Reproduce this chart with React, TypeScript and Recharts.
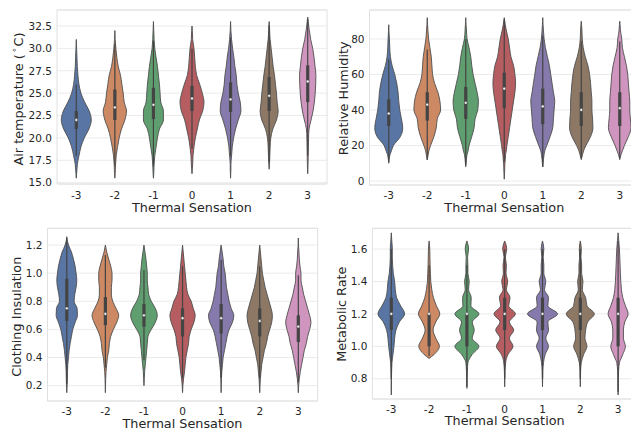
import React from 'react';
import {
  ComposedChart,
  Area,
  Line,
  XAxis,
  YAxis,
  CartesianGrid,
  ReferenceLine,
  ReferenceDot,
  ReferenceArea,
} from 'recharts';

// ---------- shared ----------
const categories = ['-3', '-2', '-1', '0', '1', '2', '3'];
const violinColors = ['#5875a4', '#cc8963', '#5f9e6e', '#b55d60', '#857aab', '#8d7866', '#d095bf'];

// ---------- Air temperature ----------
const tempLevels = [15.5, 16, 16.5, 17, 18, 19, 20, 21, 22, 23, 24, 25, 26, 27, 28, 29, 30, 31, 31.5, 32, 32.5, 33, 33.5];
const tempDensity: (number | null)[][] = [
  [0, 1, 2, 3, 8, 14, 24, 38, 45, 39, 25, 14, 8, 5, 3, 2, 1, 0, null, null, null, null, null],
  [0, 1, 1.5, 2, 4, 8, 13, 20, 30, 35, 28, 25, 21, 17, 10, 6, 3, 1, 0.5, 0, null, null, null],
  [0, 1, 1.5, 2, 4, 8, 12, 18, 30, 30, 22, 20, 18, 15, 12, 8, 4, 2, 1.5, 1, 0.5, 0, null],
  [null, 0, 1, 2, 3, 6, 10, 16, 22, 32, 36, 31, 23, 14, 10, 8, 6, 2, 1.5, 1, 0, null, null],
  [0, 0.5, 1, 1, 3, 5, 9, 15, 23, 31, 29, 23, 19, 17, 13, 10, 6, 3, 2, 1, 0.5, 0, null],
  [null, null, 0, 1, 2, 3, 5, 11, 22, 27, 24, 22, 19, 16, 12, 9, 6, 3, 2, 1.5, 1, 0, null],
  [null, 0, 0.5, 1, 1.5, 2, 2.5, 4, 10, 16, 20, 22.5, 24, 24.5, 22, 19, 15, 9, 7, 5, 3, 1.5, 0],
];
const tempQ1 = [21, 22, 22.1, 23, 22.9, 23, 24];
const tempMedian = [22, 23.4, 23.7, 24.4, 24.3, 24.7, 26.3];
const tempQ3 = [23, 25.4, 25.6, 25.8, 26.2, 26.8, 28.1];
const tempWhiskerLo = [18, 16.9, 16.85, 18.8, 17.95, 17.3, 18];
const tempWhiskerHi = [26, 30.5, 30.85, 30, 31.15, 32.5, 33.3];
const tempTicks = [15, 17.5, 20, 22.5, 25, 27.5, 30, 32.5];

// ---------- Relative humidity ----------
const rhLevels = [1, 5, 8, 10, 12, 15, 17, 20, 25, 30, 35, 40, 45, 50, 55, 60, 65, 70, 75, 80, 85, 88, 90, 92];
const rhDensity: (number | null)[][] = [
  [null, null, null, 0, 1, 4, 8, 14, 35, 42, 38, 33, 30, 28, 24, 18, 10, 5, 3, 2, 0.5, 0, null, null],
  [null, null, null, null, 0, 3, 5, 10, 20, 27, 30, 40, 38, 32, 22, 16, 14, 12, 8, 4, 2, 1, 0.5, 0],
  [null, null, 0, 1, 2, 4, 7, 10, 18, 25, 28, 36, 38, 34, 28, 22, 18, 15, 10, 4, 2, 1, 0.5, 0],
  [0, 1, 1.5, 2, 3, 4, 6, 8, 12, 16, 20, 24, 28, 32, 34, 32, 28, 20, 16, 12, 6, 3, 1.5, 0],
  [null, null, 0, 1, 2, 4, 6, 12, 22, 30, 32, 34, 36, 32, 28, 24, 20, 14, 8, 4, 2, 1, 0.5, 0],
  [null, null, null, null, 0, 4, 7, 14, 28, 35, 34, 32, 32, 30, 28, 25, 20, 12, 6, 3, 2, 1, 0, null],
  [null, null, null, null, 0, 4, 8, 14, 26, 34, 32, 30, 30, 28, 26, 24, 20, 14, 8, 6, 2, 1, 0, null],
];
const rhQ1 = [31, 34, 35, 41, 32, 31, 31];
const rhMedian = [38, 43, 44, 52, 42, 40, 41];
const rhQ3 = [46, 50, 53, 61, 52, 50, 50];
const rhWhiskerLo = [11, 12, 9, 11, 8, 13, 13];
const rhWhiskerHi = [68.5, 74, 80, 91, 82, 78.5, 78.5];
const rhTicks = [0, 20, 40, 60, 80];

// ---------- Clothing insulation ----------
const cloLevels = [0.1, 0.15, 0.2, 0.25, 0.3, 0.35, 0.4, 0.45, 0.5, 0.55, 0.6, 0.65, 0.7, 0.75, 0.8, 0.85, 0.9, 0.95, 1.0, 1.05, 1.1, 1.15, 1.2, 1.25, 1.3];
const cloDensity: (number | null)[][] = [
  [null, 0, 1, 1.5, 2, 3, 5, 7, 10, 14, 18, 25, 32, 31, 22, 24, 28, 30, 28, 25, 20, 14, 5, 0, null],
  [null, 0, 0.5, 1, 2, 4, 6, 10, 12, 16, 24, 34, 40, 32, 22, 18, 18, 20, 20, 16, 10, 4, 0, null, null],
  [null, null, 0, 1, 2, 4, 6, 8, 10, 12, 22, 34, 40, 34, 22, 14, 12, 10, 10, 8, 6, 3, 0, null, null],
  [null, 0, 1, 3, 6, 8, 10, 14, 18, 20, 26, 34, 38, 32, 26, 16, 12, 10, 8, 6, 4, 2, 0, null, null],
  [null, 0, 0.5, 1, 2, 4, 6, 10, 14, 18, 24, 34, 38, 30, 24, 20, 16, 14, 12, 8, 6, 3, 0, null, null],
  [null, 0, 1, 2, 4, 6, 10, 14, 20, 24, 30, 36, 38, 34, 28, 22, 16, 12, 8, 6, 4, 2, 0, null, null],
  [null, 0, 1, 3, 6, 10, 14, 18, 24, 28, 34, 38, 34, 28, 22, 16, 12, 8, 8, 5, 3, 2, 0.5, 0, null],
];
const cloQ1 = [0.66, 0.63, 0.62, 0.55, 0.57, 0.55, 0.51];
const cloMedian = [0.75, 0.71, 0.7, 0.68, 0.68, 0.66, 0.62];
const cloQ3 = [0.96, 0.83, 0.78, 0.75, 0.78, 0.75, 0.7];
const cloWhiskerLo = [0.21, 0.33, 0.38, 0.25, 0.255, 0.25, 0.225];
const cloWhiskerHi = [1.26, 1.13, 1.02, 1.05, 1.095, 1.05, 0.985];
const cloTicks = [0.2, 0.4, 0.6, 0.8, 1.0, 1.2];

// ---------- Metabolic rate ----------
const metLevels = [0.7, 0.75, 0.8, 0.85, 0.9, 0.925, 0.95, 1.0, 1.05, 1.1, 1.15, 1.2, 1.25, 1.3, 1.35, 1.4, 1.45, 1.5, 1.55, 1.6, 1.65, 1.7];
const metDensity: (number | null)[][] = [
  [0, 0.5, 0.5, 1, 2, 3.5, 5, 8, 10, 14, 24, 40, 28, 16, 12, 10, 6, 4, 3, 3, 1.5, 0],
  [null, null, null, null, null, 0, 15, 31, 20, 12, 20, 32, 22, 13, 8, 5, 4, 3, 2.5, 2, 0, null],
  [null, 0, 0.5, 1.5, 3, 8, 16, 36, 16, 22, 16, 36, 12, 13, 5, 7, 3, 3, 2, 5, 0, null],
  [null, 0, 0.5, 1, 3, 5, 10, 25, 14, 27, 14, 32, 12, 16, 5, 9, 4, 5, 2, 6, 0, null],
  [null, 0, 0.5, 1, 3, 5, 8, 18, 10, 18, 16, 45, 16, 18, 6, 10, 4, 4, 2, 4, 0, null],
  [null, 0, 0.5, 1, 3, 6, 10, 20, 14, 16, 22, 42, 20, 16, 6, 8, 4, 4, 2, 3, 0, null],
  [0, 0.5, 0.5, 1.5, 4, 9, 14, 22, 16, 16, 20, 30, 22, 14, 10, 8, 7, 6, 5, 4, 2, 0],
];
const metQ1 = [1.1, 1.0, 1.0, 1.1, 1.1, 1.1, 1.0];
const metMedian = [1.2, 1.2, 1.2, 1.2, 1.2, 1.2, 1.2];
const metQ3 = [1.3, 1.2, 1.2, 1.3, 1.3, 1.3, 1.3];
const metWhiskerLo = [0.8, 0.94, 0.74, 0.8, 0.8, 0.8, 0.72];
const metWhiskerHi = [1.6, 1.5, 1.5, 1.6, 1.6, 1.6, 1.65];
const metTicks = [0.8, 1.0, 1.2, 1.4, 1.6];

// ---------- styling ----------
const FONT = "'DejaVu Sans', 'Liberation Sans', sans-serif";
const TEXT = '#262626';
const EDGE = '#4e4e4e';
const BOX = '#444444';

type PanelProps = {
  left: number;
  top: number;
  width: number;
  height: number;
  margin: { top: number; right: number; bottom: number; left: number };
  yAxisWidth: number;
  xAxisHeight: number;
  xTickSize: number;
  xTickMargin: number;
  domain: [number, number];
  ticks: number[];
  fmt: (v: number) => string;
  levels: number[];
  density: (number | null)[][];
  q1: number[];
  median: number[];
  q3: number[];
  wLo: number[];
  wHi: number[];
  scale: number;
};

function ViolinPanel(p: PanelProps) {
  const rows = p.levels.map((y, k) => ({ y, w: p.density.map((arr) => arr[k]) }));
  const idx = categories.map((_, i) => i);
  const tickStyle = { fill: TEXT, fontSize: 10.5, fontFamily: FONT };
  return (
    <div style={{ position: 'absolute', left: p.left, top: p.top }}>
      <ComposedChart layout="vertical" width={p.width} height={p.height} data={rows} margin={p.margin}>
        <CartesianGrid vertical={false} stroke="#ebebeb" strokeWidth={1} />
        <ReferenceArea
          x1={-0.5}
          x2={6.5}
          y1={p.domain[0]}
          y2={p.domain[1]}
          fill="none"
          fillOpacity={0}
          stroke="#e0e0e0"
          strokeWidth={1}
          ifOverflow="visible"
        />
        <XAxis
          type="number"
          domain={[-0.5, 6.5]}
          ticks={idx}
          interval={0}
          tickFormatter={(v: number) => categories[v]}
          allowDataOverflow
          axisLine={false}
          tickLine={false}
          tickSize={p.xTickSize}
          tickMargin={p.xTickMargin}
          height={p.xAxisHeight}
          tick={tickStyle}
        />
        <YAxis
          type="number"
          dataKey="y"
          reversed
          domain={p.domain}
          ticks={p.ticks}
          interval={0}
          tickFormatter={p.fmt}
          allowDataOverflow
          axisLine={false}
          tickLine={false}
          tickSize={3}
          tickMargin={2}
          width={p.yAxisWidth}
          tick={tickStyle}
        />
        {idx.map((i) => (
          <Area
            key={'area' + i}
            dataKey={(r: any) => (r.w[i] == null ? null : [i - r.w[i] * p.scale, i + r.w[i] * p.scale])}
            type="monotone"
            fill={violinColors[i]}
            fillOpacity={1}
            stroke="none"
            dot={false}
            activeDot={false}
            connectNulls={false}
            isAnimationActive={false}
          />
        ))}
        {idx.map((i) => (
          <Line
            key={'left' + i}
            dataKey={(r: any) => (r.w[i] == null ? null : i - r.w[i] * p.scale)}
            type="monotone"
            stroke={EDGE}
            strokeWidth={0.9}
            dot={false}
            activeDot={false}
            connectNulls={false}
            isAnimationActive={false}
          />
        ))}
        {idx.map((i) => (
          <Line
            key={'right' + i}
            dataKey={(r: any) => (r.w[i] == null ? null : i + r.w[i] * p.scale)}
            type="monotone"
            stroke={EDGE}
            strokeWidth={0.9}
            dot={false}
            activeDot={false}
            connectNulls={false}
            isAnimationActive={false}
          />
        ))}
        {idx.map((i) => (
          <ReferenceLine
            key={'wh' + i}
            segment={[
              { x: i, y: p.wLo[i] },
              { x: i, y: p.wHi[i] },
            ]}
            stroke={BOX}
            strokeWidth={1.2}
            ifOverflow="visible"
          />
        ))}
        {idx.map((i) => (
          <ReferenceLine
            key={'box' + i}
            segment={[
              { x: i, y: p.q1[i] },
              { x: i, y: p.q3[i] },
            ]}
            stroke={BOX}
            strokeWidth={3.2}
            ifOverflow="visible"
          />
        ))}
        {idx.map((i) => (
          <ReferenceDot
            key={'med' + i}
            x={i}
            y={p.median[i]}
            r={1.4}
            fill="#f4f4f4"
            stroke={BOX}
            strokeWidth={0.4}
            ifOverflow="visible"
          />
        ))}
      </ComposedChart>
    </div>
  );
}

const fmt1 = (v: number) => v.toFixed(1);
const fmt0 = (v: number) => String(v);

export default function App() {
  const titleStyle = { fontFamily: FONT, fontSize: 12.8, fill: TEXT } as const;
  return (
    <div
      style={{
        position: 'absolute',
        left: 0,
        top: 0,
        width: 631,
        height: 430,
        overflow: 'hidden',
        background: '#ffffff',
      }}
    >
      <ViolinPanel
        left={0}
        top={0}
        width={330}
        height={215}
        margin={{ top: 10, right: 3, bottom: 0, left: 0 }}
        yAxisWidth={57}
        xAxisHeight={31}
        xTickSize={5}
        xTickMargin={2.4}
        domain={[14.85, 34.29]}
        ticks={tempTicks}
        fmt={fmt1}
        levels={tempLevels}
        density={tempDensity}
        q1={tempQ1}
        median={tempMedian}
        q3={tempQ3}
        wLo={tempWhiskerLo}
        wHi={tempWhiskerHi}
        scale={1 / 115.8}
      />
      <ViolinPanel
        left={320}
        top={0}
        width={320}
        height={215}
        margin={{ top: 10, right: 1, bottom: 0, left: 0 }}
        yAxisWidth={49.5}
        xAxisHeight={30}
        xTickSize={5}
        xTickMargin={1.9}
        domain={[-2.25, 96.3]}
        ticks={rhTicks}
        fmt={fmt0}
        levels={rhLevels}
        density={rhDensity}
        q1={rhQ1}
        median={rhMedian}
        q3={rhQ3}
        wLo={rhWhiskerLo}
        wHi={rhWhiskerHi}
        scale={1 / 115.5}
      />
      <ViolinPanel
        left={0}
        top={215}
        width={320}
        height={215}
        margin={{ top: 13.3, right: 2.4, bottom: 0, left: 0 }}
        yAxisWidth={47.5}
        xAxisHeight={29}
        xTickSize={4.6}
        xTickMargin={2}
        domain={[0.091, 1.319]}
        ticks={cloTicks}
        fmt={fmt1}
        levels={cloLevels}
        density={cloDensity}
        q1={cloQ1}
        median={cloMedian}
        q3={cloQ3}
        wLo={cloWhiskerLo}
        wHi={cloWhiskerHi}
        scale={1 / 115.8}
      />
      <ViolinPanel
        left={320}
        top={215}
        width={320}
        height={215}
        margin={{ top: 13.3, right: 3, bottom: 0, left: 0 }}
        yAxisWidth={52.4}
        xAxisHeight={31}
        xTickSize={4}
        xTickMargin={2.2}
        domain={[0.675, 1.728]}
        ticks={metTicks}
        fmt={fmt1}
        levels={metLevels}
        density={metDensity}
        q1={metQ1}
        median={metMedian}
        q3={metQ3}
        wLo={metWhiskerLo}
        wHi={metWhiskerHi}
        scale={1 / 113.4}
      />
      <svg
        width={631}
        height={430}
        style={{ position: 'absolute', left: 0, top: 0, pointerEvents: 'none' }}
      >
        <text x={192} y={207.8} textAnchor="middle" dominantBaseline="central" style={titleStyle}>
          Thermal Sensation
        </text>
        <text x={504.3} y={207.5} textAnchor="middle" dominantBaseline="central" style={titleStyle}>
          Thermal Sensation
        </text>
        <text x={182.5} y={423.8} textAnchor="middle" dominantBaseline="central" style={titleStyle}>
          Thermal Sensation
        </text>
        <text x={504.7} y={420.8} textAnchor="middle" dominantBaseline="central" style={titleStyle}>
          Thermal Sensation
        </text>
        <text
          transform="translate(18.3,99) rotate(-90)"
          textAnchor="middle"
          dominantBaseline="central"
          style={titleStyle}
        >
          Air temperature (
          <tspan fontSize={8.5} dx={1.5} dy={-4.5}>
            {'\u2218'}
          </tspan>
          <tspan dx={1} dy={4.5}>
            C)
          </tspan>
        </text>
        <text
          transform="translate(343,98.3) rotate(-90)"
          textAnchor="middle"
          dominantBaseline="central"
          style={titleStyle}
        >
          Relative Humidity
        </text>
        <text
          transform="translate(16.7,316.7) rotate(-90)"
          textAnchor="middle"
          dominantBaseline="central"
          style={titleStyle}
        >
          Clothing Insulation
        </text>
        <text
          transform="translate(341.3,314.2) rotate(-90)"
          textAnchor="middle"
          dominantBaseline="central"
          style={titleStyle}
        >
          Metabolic Rate
        </text>
      </svg>
    </div>
  );
}
